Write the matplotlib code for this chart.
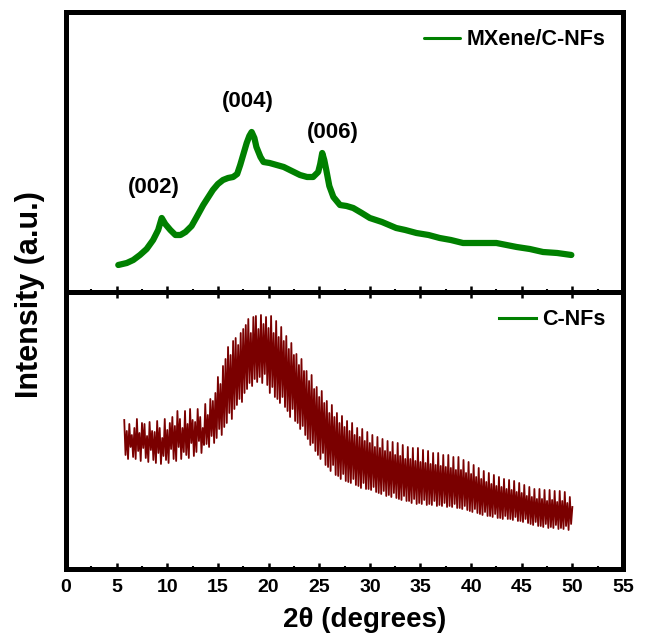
import matplotlib
matplotlib.use("Agg")
import matplotlib.pyplot as plt
from matplotlib.lines import Line2D
from matplotlib.ticker import MultipleLocator
import numpy as np

plt.rcParams['font.family'] = ['Liberation Sans', 'DejaVu Sans']
plt.rcParams['font.weight'] = 'bold'

# ---- MXene/C-NFs (top) ----
mx_theta = [5.16, 6.0, 6.64, 7.3, 7.96, 8.6, 9.1, 9.45, 9.8, 10.3, 10.8, 11.3, 11.8, 12.4,
            12.9, 13.55, 14.5, 15.0, 15.5, 16.0, 16.5, 16.9, 17.2, 17.84, 18.1, 18.33,
            18.6, 18.8, 19.2, 19.5, 20.1, 20.8, 21.5, 22.1, 23.1, 23.8, 24.4, 24.9, 25.1, 25.3,
            25.5, 25.7, 26.0, 26.4, 27.05, 27.7, 28.36, 29.2, 30.0, 31.2, 32.6, 33.5, 34.6,
            35.8, 36.9, 38.0, 39.2, 40.8, 42.5, 43.5, 44.5, 45.8, 47.1, 48.5, 49.9]
mx_int = [27, 29, 32, 37, 43, 52, 62, 74, 68, 62, 57, 57, 60, 66,
          75, 87, 102, 108, 112, 114, 115, 118, 127, 149, 156, 160,
          154, 145, 135, 130, 129, 127, 125, 122, 117, 115, 115, 120, 128, 139,
          132, 122, 106, 95, 87, 86, 84, 79, 74, 70, 64, 62, 59,
          57, 54, 52, 49, 49, 49, 47, 45, 43, 40, 39, 37]

# ---- C-NFs (bottom), 5.75 .. 50.0 step 0.125 ----
cnf_start, cnf_step = 5.75, 0.125
cnf_int = [
    149, 114, 138, 110, 145, 122, 134, 112,
    141, 110, 150, 118, 136, 108, 146, 121,
    145, 111, 133, 107, 147, 119, 138, 109,
    137, 106, 148, 116, 141, 105, 131, 113,
    150, 109, 139, 106, 146, 120, 152, 110,
    143, 108, 158, 122, 150, 110, 141, 117,
    158, 114, 145, 111, 160, 126, 149, 113,
    147, 117, 160, 128, 152, 116, 141, 124,
    165, 125, 154, 122, 170, 133, 168, 126,
    176, 131, 192, 140, 185, 134, 203, 142,
    210, 146, 222, 156, 214, 150, 228, 160,
    231, 164, 224, 170, 236, 167, 240, 176,
    244, 180, 250, 186, 236, 183, 252, 190,
    253, 187, 240, 192, 254, 186, 245, 195,
    252, 184, 241, 176, 253, 182, 236, 172,
    248, 170, 232, 166, 242, 172, 228, 162,
    233, 158, 220, 152, 226, 160, 214, 148,
    215, 146, 204, 140, 210, 143, 198, 134,
    198, 130, 188, 124, 194, 126, 180, 118,
    182, 114, 172, 110, 178, 116, 166, 104,
    168, 102, 156, 98, 164, 104, 152, 94,
    156, 93, 146, 90, 153, 95, 142, 88,
    148, 87, 138, 86, 146, 90, 134, 84,
    141, 83, 132, 81, 140, 86, 128, 80,
    137, 80, 126, 79, 134, 82, 122, 77,
    132, 76, 121, 75, 130, 78, 118, 73,
    128, 74, 117, 72, 127, 76, 114, 71,
    126, 70, 113, 69, 124, 73, 110, 68,
    122, 68, 110, 66, 121, 70, 108, 65,
    121, 66, 107, 65, 119, 69, 106, 64,
    118, 65, 105, 64, 116, 68, 104, 63,
    116, 64, 103, 63, 114, 66, 102, 62,
    114, 63, 101, 62, 112, 65, 99, 61,
    112, 61, 99, 60, 109, 63, 96, 59,
    107, 58, 95, 57, 104, 60, 92, 56,
    101, 55, 90, 54, 98, 57, 87, 53,
    96, 53, 85, 52, 94, 55, 83, 51,
    92, 51, 82, 50, 90, 53, 80, 50,
    89, 50, 79, 49, 88, 52, 77, 48,
    86, 48, 76, 47, 84, 50, 73, 46,
    82, 45, 72, 44, 80, 47, 70, 43,
    80, 43, 70, 42, 79, 45, 68, 41,
    79, 42, 69, 41, 78, 44, 67, 40,
    78, 41, 68, 40, 77, 43, 66, 39,
    72, 45, 62]
cnf_theta = cnf_start + cnf_step * np.arange(len(cnf_int))

peak_labels = ["(002)", "(004)", "(006)"]
peak_pos = [(8.7, 104), (18.0, 190), (26.3, 159)]

xticks = [0, 5, 10, 15, 20, 25, 30, 35, 40, 45, 50, 55]

green = '#008000'
maroon = '#7a0000'

fig = plt.figure(figsize=(6.46, 6.37), dpi=100)
ax1 = fig.add_axes([0.1022, 0.5416, 0.8622, 0.4396])
ax2 = fig.add_axes([0.1022, 0.1068, 0.8622, 0.4348])

ax1.plot(mx_theta, mx_int, color=green, lw=4.5, solid_joinstyle='round',
         solid_capstyle='round', label='MXene/C-NFs')
ax2.plot(cnf_theta, cnf_int, color=maroon, lw=1.3)

for t, (px, py) in zip(peak_labels, peak_pos):
    ax1.text(px, py, t, ha='center', va='center', fontsize=16, fontweight='bold')

ax1.set_xlim(0, 55)
ax2.set_xlim(0, 55)
ax1.set_ylim(0, 280)
ax2.set_ylim(0, 277)

for ax in (ax1, ax2):
    for s in ax.spines.values():
        s.set_linewidth(3.6)
    ax.xaxis.set_major_locator(MultipleLocator(5))
    ax.xaxis.set_minor_locator(MultipleLocator(2.5))
    ax.set_yticks([])
    ax.tick_params(axis='x', which='major', direction='in', length=4.5, width=1.8)
    ax.tick_params(axis='x', which='minor', direction='in', length=2.5, width=1.5)

ax1.tick_params(axis='x', which='both', top=False, bottom=True, labelbottom=False)
ax2.tick_params(axis='x', which='both', top=True, bottom=True, labelbottom=True)
ax2.set_xticks(xticks)
ax2.set_xticklabels([str(v) for v in xticks], fontsize=14, fontweight='bold')
ax2.tick_params(axis='x', which='major', pad=7)

leg1 = ax1.legend(loc='upper right', frameon=False, handlelength=1.7,
                  handletextpad=0.3, borderaxespad=0.4,
                  prop={'weight': 'bold', 'size': 15.5})
for ln in leg1.get_lines():
    ln.set_linewidth(2.2)
h = Line2D([], [], color=green, lw=2.2)
ax2.legend([h], ['C-NFs'], loc='upper right', frameon=False, handlelength=1.7,
           handletextpad=0.3, borderaxespad=0.4, prop={'weight': 'bold', 'size': 15.5})

fig.text(365/646, 1 - 620/637, '2θ (degrees)', ha='center', va='center',
         fontsize=20, fontweight='bold')
fig.text(30/646, 1 - 295/637, 'Intensity (a.u.)', ha='center', va='center',
         rotation=90, fontsize=22, fontweight='bold')

fig.savefig('out.png', dpi=100)
